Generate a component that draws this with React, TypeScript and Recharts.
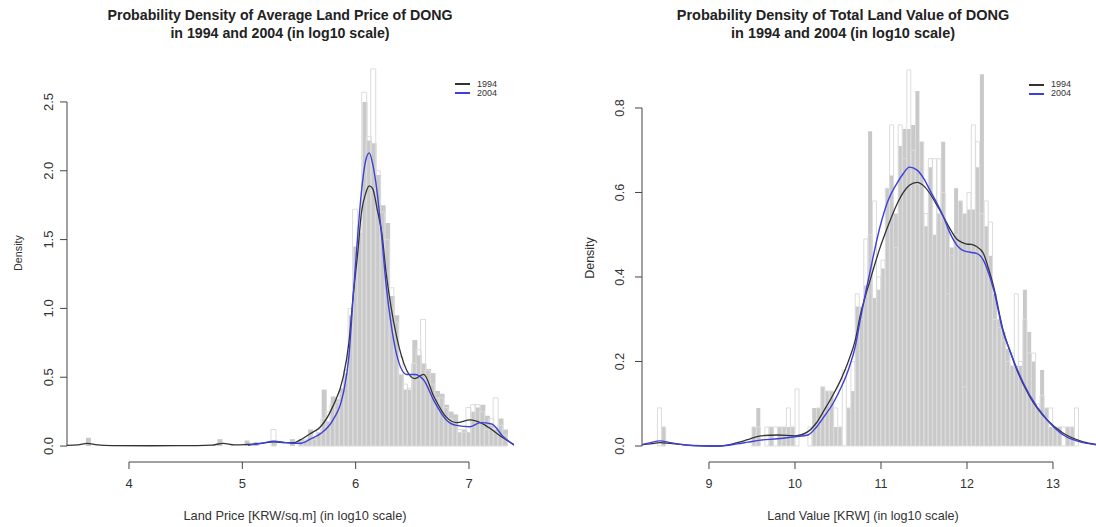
import { ComposedChart, Bar, Line, XAxis, YAxis, ReferenceLine } from 'recharts';

const FONT = '"Liberation Sans", Arial, Helvetica, sans-serif';
const C1994 = '#333333';
const C2004 = '#3f3fdc';
const GRAY = '#c9c9c9';
const OUTLINE = '#dcdcdc';
const AXIS = '#444444';

// ---- left panel: average land price (log10) ----
const priceGrayX = [
  3.64, 4.8, 5.04, 5.12, 5.28, 5.44,
  5.52, 5.56, 5.6, 5.64, 5.68, 5.72, 5.76, 5.8, 5.84, 5.88,
  5.92, 5.96, 6.0, 6.04, 6.08, 6.12, 6.16, 6.2, 6.24, 6.28,
  6.32, 6.36, 6.4, 6.44, 6.48, 6.52, 6.56, 6.6, 6.64, 6.68,
  6.72, 6.76, 6.8, 6.84, 6.88, 6.92, 6.96, 7.0, 7.04, 7.08,
  7.12, 7.16, 7.2, 7.24, 7.28, 7.32,
];
const priceGray = [
  0.06, 0.05, 0.04, 0.03, 0.04, 0.05,
  0.05, 0.04, 0.12, 0.06, 0.1, 0.41, 0.18, 0.36, 0.34, 0.42,
  0.53, 0.95, 1.45, 1.55, 2.5, 2.22, 2.2, 1.97, 1.75, 1.62,
  1.09, 0.95, 0.52, 0.41, 0.41, 0.77, 0.66, 0.6, 0.56, 0.53,
  0.4, 0.38, 0.3, 0.25, 0.23, 0.1, 0.12, 0.1, 0.25, 0.28,
  0.3, 0.22, 0.15, 0.12, 0.2, 0.12,
];
const priceOutlineX = [
  5.273,
  5.513, 5.553, 5.593, 5.633, 5.673, 5.713, 5.753, 5.793, 5.833, 5.873,
  5.913, 5.953, 5.993, 6.033, 6.073, 6.113, 6.153, 6.193, 6.233, 6.273,
  6.313, 6.353, 6.393, 6.433, 6.473, 6.513, 6.553, 6.593, 6.633, 6.673,
  6.713, 6.753, 6.793, 6.833, 6.873, 6.913, 6.953, 6.993, 7.033, 7.073,
  7.113, 7.153, 7.193, 7.233, 7.273, 7.313,
];
const priceOutline = [
  0.12,
  0.03, 0.05, 0.08, 0.05, 0.12, 0.2, 0.25, 0.3, 0.32, 0.38,
  0.55, 1.0, 1.72, 1.6, 2.57, 2.25, 2.74, 2.0, 1.7, 1.5,
  1.15, 0.9, 0.65, 0.45, 0.42, 0.6, 0.7, 0.92, 0.55, 0.45,
  0.35, 0.35, 0.28, 0.2, 0.15, 0.12, 0.1, 0.28, 0.3, 0.3,
  0.25, 0.12, 0.2, 0.35, 0.15, 0.08,
];
const priceDensX = [
  3.453, 3.55, 3.63, 3.72, 3.85, 4.2, 4.6, 4.73, 4.83, 4.93,
  5.05, 5.17, 5.28, 5.38, 5.46, 5.51, 5.6, 5.69, 5.8, 5.89,
  5.94, 5.98, 6.02, 6.05, 6.09, 6.12, 6.15, 6.19, 6.23, 6.27,
  6.31, 6.36, 6.45, 6.52, 6.6, 6.69, 6.8, 6.89, 7.01, 7.1,
  7.2, 7.3, 7.4,
];
const priceDens1994 = [
  0.005, 0.008, 0.02, 0.008, 0.003, 0.002, 0.003, 0.006, 0.02, 0.008,
  0.012, 0.02, 0.03, 0.025, 0.025, 0.045, 0.09, 0.14, 0.29, 0.5,
  0.75, 1.11, 1.42, 1.69, 1.84, 1.89, 1.87, 1.72, 1.55, 1.25,
  1.02, 0.8, 0.55, 0.49, 0.52, 0.36, 0.21, 0.17, 0.19, 0.17,
  0.12, 0.06, 0.01,
];
const priceDens2004 = [
  null, null, null, null, null, null, null, null, null, null,
  0.005, 0.02, 0.035, 0.025, 0.02, 0.02, 0.05, 0.09, 0.19, 0.38,
  0.65, 1.11, 1.55, 1.84, 2.08, 2.13, 2.05, 1.84, 1.52, 1.16,
  0.9, 0.67, 0.52, 0.52, 0.48, 0.33, 0.19, 0.15, 0.14, 0.17,
  0.16, 0.07, 0.005,
];
const priceTicksX = [4, 5, 6, 7];
const priceTicksY = [0, 0.5, 1, 1.5, 2, 2.5];

// ---- right panel: total land value (log10) ----
const valueBinX = [
  8.325, 8.375, 8.425, 8.475, 8.525, 8.575, 8.625, 8.675, 8.725, 8.775,
  8.825, 8.875, 8.925, 8.975, 9.025, 9.075, 9.125, 9.175, 9.225, 9.275,
  9.325, 9.375, 9.425, 9.475, 9.525, 9.575, 9.625, 9.675, 9.725, 9.775,
  9.825, 9.875, 9.925, 9.975, 10.025, 10.075, 10.125, 10.175, 10.225, 10.275,
  10.325, 10.375, 10.425, 10.475, 10.525, 10.575, 10.625, 10.675, 10.725, 10.775,
  10.825, 10.875, 10.925, 10.975, 11.025, 11.075, 11.125, 11.175, 11.225, 11.275,
  11.325, 11.375, 11.425, 11.475, 11.525, 11.575, 11.625, 11.675, 11.725, 11.775,
  11.825, 11.875, 11.925, 11.975, 12.025, 12.075, 12.125, 12.175, 12.225, 12.275,
  12.325, 12.375, 12.425, 12.475, 12.525, 12.575, 12.625, 12.675, 12.725, 12.775,
  12.825, 12.875, 12.925, 12.975, 13.025, 13.075, 13.125, 13.175, 13.225, 13.275,
];
const valueGray = [
  0, 0, 0, 0.045, 0, 0, 0, 0, 0, 0,
  0, 0, 0, 0, 0, 0, 0, 0, 0, 0,
  0, 0, 0, 0, 0.045, 0.09, 0, 0, 0.045, 0,
  0.045, 0.045, 0.045, 0.045, 0, 0, 0, 0, 0.09, 0.09,
  0.14, 0.13, 0.13, 0.045, 0.045, 0, 0.09, 0.13, 0.33, 0.33,
  0.38, 0.745, 0.35, 0.37, 0.42, 0.61, 0.64, 0.55, 0.71, 0.75,
  0.75, 0.76, 0.84, 0.72, 0.52, 0.66, 0.5, 0.55, 0.72, 0.52,
  0.47, 0.61, 0.58, 0.55, 0.56, 0.56, 0.66, 0.88, 0.52, 0.45,
  0.36, 0.3, 0.27, 0.23, 0.19, 0.19, 0.19, 0.37, 0.27, 0.2,
  0.09, 0.18, 0.09, 0.045, 0.045, 0.045, 0, 0.045, 0.045, 0,
];
const valueOutline = [
  0, 0, 0.09, 0.045, 0, 0, 0, 0, 0, 0,
  0, 0, 0, 0, 0, 0, 0, 0, 0, 0,
  0, 0, 0, 0, 0.045, 0.045, 0, 0.045, 0.045, 0.045,
  0.045, 0.045, 0.09, 0.045, 0.135, 0, 0, 0.045, 0.045, 0.09,
  0.14, 0.13, 0.13, 0.09, 0.045, 0.18, 0.09, 0.2, 0.36, 0.3,
  0.49, 0.5, 0.58, 0.4, 0.44, 0.61, 0.76, 0.47, 0.76, 0.68,
  0.89, 0.7, 0.62, 0.72, 0.55, 0.68, 0.68, 0.68, 0.6, 0.36,
  0.45, 0.5, 0.58, 0.14, 0.6, 0.76, 0.72, 0.55, 0.58, 0.53,
  0.3, 0.28, 0.25, 0.2, 0.22, 0.36, 0.2, 0.3, 0.22, 0.22,
  0.1, 0.12, 0.09, 0.09, 0.045, 0.045, 0.045, 0.045, 0.045, 0.09,
];
const valueDensX = [
  8.222, 8.32, 8.43, 8.55, 8.7, 8.82, 9.0, 9.13, 9.33, 9.45,
  9.6, 9.8, 10.0, 10.15, 10.25, 10.34, 10.44, 10.54, 10.62, 10.7,
  10.76, 10.87, 10.99, 11.08, 11.18, 11.26, 11.33, 11.42, 11.5, 11.57,
  11.65, 11.725, 11.8, 11.88, 11.94, 12.0, 12.05, 12.11, 12.19, 12.25,
  12.31, 12.42, 12.5, 12.58, 12.73, 12.93, 13.12, 13.35, 13.5,
];
const valueDens1994 = [
  0.003, 0.005, 0.008, 0.006, 0.003, 0.001, 0.0, 0.0, 0.008, 0.015,
  0.024, 0.026, 0.024, 0.034, 0.055, 0.085, 0.12, 0.16, 0.2, 0.25,
  0.31, 0.39, 0.47, 0.52, 0.57, 0.6, 0.617, 0.624, 0.615, 0.597,
  0.57, 0.543, 0.515, 0.49, 0.482, 0.478, 0.477, 0.472, 0.456, 0.42,
  0.377, 0.274, 0.225, 0.18, 0.117, 0.062, 0.03, 0.01, 0.004,
];
const valueDens2004 = [
  0.003, 0.008, 0.012, 0.008, 0.003, 0.001, 0.0, 0.0, 0.005, 0.009,
  0.014, 0.017, 0.022, 0.026, 0.045, 0.07, 0.1, 0.14, 0.18, 0.235,
  0.3, 0.41, 0.52, 0.58, 0.62, 0.645, 0.66, 0.653, 0.632, 0.605,
  0.575, 0.543, 0.505, 0.476, 0.464, 0.46, 0.458, 0.456, 0.44, 0.41,
  0.37, 0.27, 0.225, 0.183, 0.12, 0.062, 0.026, 0.008, 0.003,
];
const valueTicksX = [9, 10, 11, 12, 13];
const valueTicksY = [0, 0.2, 0.4, 0.6, 0.8];

const LEGEND = [
  { name: '1994', color: C1994 },
  { name: '2004', color: C2004 },
];

const toRows = (xs: number[], ys: number[]) => xs.map((x, i) => ({ x, y: ys[i] }));
const toDensRows = (xs: number[], a: (number | null)[], b: (number | null)[]) =>
  xs.map((x, i) => ({ x, d1994: a[i], d2004: b[i] }));

interface PanelProps {
  left: number; // panel left on page
  axisW: number; // y-axis width = plot left inside panel
  right: number;
  xDomain: [number, number];
  yDomain: [number, number];
  xTicks: number[];
  yTicks: number[];
  tickFont: number;
  yLabelOff: number;
  gray: { x: number; y: number }[];
  outline: { x: number; y: number }[];
  dens: { x: number; d1994: number | null; d2004: number | null }[];
  title: string[];
  titleCx: number;
  titleSize: number;
  xLabel: string;
  xLabelCx: number;
  labelSize: number;
  densityCx: number;
  densityCy: number;
  densitySize: number;
  legendX: number;
  legendRow: number;
}

const W = 548;
const H = 527;
const TOP = 52;
const XH = 65;

function Panel(p: PanelProps) {
  const layer: React.CSSProperties = { position: 'absolute', left: 0, top: 0 };
  const barMargin = { top: TOP, right: p.right, bottom: XH, left: p.axisW };

  const xTick = (props: any) => (
    <text
      x={props.x}
      y={props.y + 17}
      textAnchor="middle"
      fontSize={p.tickFont}
      fontFamily={FONT}
      fill="#333"
    >
      {props.payload.value}
    </text>
  );
  const yTick = (props: any) => (
    <text
      transform={`translate(${props.x - p.yLabelOff},${props.y}) rotate(-90)`}
      textAnchor="middle"
      fontSize={p.tickFont}
      fontFamily={FONT}
      fill="#333"
    >
      {Number(props.payload.value).toFixed(1)}
    </text>
  );

  const yTop = p.yTicks[p.yTicks.length - 1];

  return (
    <div style={{ position: 'absolute', left: p.left, top: 0, width: W, height: H }}>
      {/* 1994 histogram, filled */}
      <div style={layer}>
        <ComposedChart width={W} height={H} data={p.gray} margin={barMargin} barCategoryGap={0} barGap={0}>
          <XAxis type="number" dataKey="x" domain={p.xDomain} allowDataOverflow hide />
          <YAxis type="number" domain={p.yDomain} allowDataOverflow hide />
          <Bar dataKey="y" fill={GRAY} isAnimationActive={false} />
        </ComposedChart>
      </div>
      {/* 2004 histogram, outline only */}
      <div style={layer}>
        <ComposedChart width={W} height={H} data={p.outline} margin={barMargin} barCategoryGap={0} barGap={0}>
          <XAxis type="number" dataKey="x" domain={p.xDomain} allowDataOverflow hide />
          <YAxis type="number" domain={p.yDomain} allowDataOverflow hide />
          <Bar dataKey="y" fill="none" stroke={OUTLINE} strokeWidth={1} isAnimationActive={false} />
        </ComposedChart>
      </div>
      {/* axes + density curves */}
      <div style={layer}>
        <ComposedChart width={W} height={H} data={p.dens} margin={{ top: TOP, right: p.right, bottom: 0, left: 0 }}>
          <XAxis
            type="number"
            dataKey="x"
            domain={p.xDomain}
            allowDataOverflow
            ticks={p.xTicks}
            interval={0}
            height={XH}
            axisLine={false}
            stroke={AXIS}
            tickSize={7}
            tick={xTick}
          />
          <YAxis
            type="number"
            domain={p.yDomain}
            allowDataOverflow
            ticks={p.yTicks}
            interval={0}
            width={p.axisW}
            axisLine={false}
            stroke={AXIS}
            tickSize={7}
            tick={yTick}
          />
          <ReferenceLine
            segment={[
              { x: p.xTicks[0], y: p.yDomain[0] },
              { x: p.xTicks[p.xTicks.length - 1], y: p.yDomain[0] },
            ]}
            stroke={AXIS}
            ifOverflow="visible"
          />
          <ReferenceLine
            segment={[
              { x: p.xDomain[0], y: 0 },
              { x: p.xDomain[0], y: yTop },
            ]}
            stroke={AXIS}
            ifOverflow="visible"
          />
          <Line
            dataKey="d1994"
            type="monotone"
            stroke={C1994}
            strokeWidth={1.3}
            dot={false}
            connectNulls
            isAnimationActive={false}
          />
          <Line
            dataKey="d2004"
            type="monotone"
            stroke={C2004}
            strokeWidth={1.4}
            dot={false}
            connectNulls
            isAnimationActive={false}
          />
        </ComposedChart>
      </div>

      {/* title */}
      <div
        style={{
          position: 'absolute',
          left: p.titleCx - 250,
          top: 6,
          width: 500,
          textAlign: 'center',
          fontFamily: FONT,
          fontWeight: 'bold',
          fontSize: p.titleSize,
          lineHeight: '18px',
          color: '#222',
        }}
      >
        {p.title.map((t) => (
          <div key={t}>{t}</div>
        ))}
      </div>

      {/* x label */}
      <div
        style={{
          position: 'absolute',
          left: p.xLabelCx - 200,
          top: 508,
          width: 400,
          textAlign: 'center',
          fontFamily: FONT,
          fontSize: p.labelSize,
          lineHeight: '16px',
          color: '#333',
        }}
      >
        {p.xLabel}
      </div>

      {/* y label */}
      <div
        style={{
          position: 'absolute',
          left: p.densityCx,
          top: p.densityCy,
          transform: 'translate(-50%, -50%) rotate(-90deg)',
          fontFamily: FONT,
          fontSize: p.densitySize,
          color: '#333',
          whiteSpace: 'nowrap',
        }}
      >
        Density
      </div>

      {/* legend */}
      <div
        style={{
          position: 'absolute',
          left: p.legendX,
          top: 80,
          fontFamily: FONT,
          fontSize: 9,
          color: '#333',
        }}
      >
        {LEGEND.map((s) => (
          <div
            key={s.name}
            style={{ display: 'flex', alignItems: 'center', height: p.legendRow, lineHeight: `${p.legendRow}px` }}
          >
            <span style={{ display: 'inline-block', width: 15, height: 2, background: s.color, marginRight: 7 }} />
            {s.name}
          </div>
        ))}
      </div>
    </div>
  );
}

export default function App() {
  return (
    <div style={{ position: 'relative', width: 1096, height: 527, background: '#fff', overflow: 'hidden' }}>
      <style>{'body{margin:0}'}</style>
      <Panel
        left={0}
        axisW={67}
        right={34}
        xDomain={[3.453, 7.397]}
        yDomain={[-0.116, 2.863]}
        xTicks={priceTicksX}
        yTicks={priceTicksY}
        tickFont={13}
        yLabelOff={5.5}
        gray={toRows(priceGrayX, priceGray)}
        outline={toRows(priceOutlineX, priceOutline)}
        dens={toDensRows(priceDensX, priceDens1994, priceDens2004)}
        title={['Probability Density of Average Land Price of DONG', 'in 1994 and 2004 (in log10 scale)']}
        titleCx={280}
        titleSize={14.2}
        xLabel="Land Price [KRW/sq.m] (in log10 scale)"
        xLabelCx={295}
        labelSize={12.8}
        densityCx={17.5}
        densityCy={253}
        densitySize={10.8}
        legendX={455}
        legendRow={8.5}
      />
      <Panel
        left={548}
        axisW={94}
        right={0}
        xDomain={[8.221, 13.5]}
        yDomain={[-0.0379, 0.9325]}
        xTicks={valueTicksX}
        yTicks={valueTicksY}
        tickFont={12.5}
        yLabelOff={8.7}
        gray={toRows(valueBinX, valueGray)}
        outline={toRows(valueBinX, valueOutline)}
        dens={toDensRows(valueDensX, valueDens1994, valueDens2004)}
        title={['Probability Density of Total Land Value of DONG', 'in 1994 and 2004 (in log10 scale)']}
        titleCx={295}
        titleSize={14.5}
        xLabel="Land Value [KRW] (in log10 scale)"
        xLabelCx={315}
        labelSize={12.6}
        densityCx={42}
        densityCy={258}
        densitySize={12.5}
        legendX={481}
        legendRow={9}
      />
    </div>
  );
}
